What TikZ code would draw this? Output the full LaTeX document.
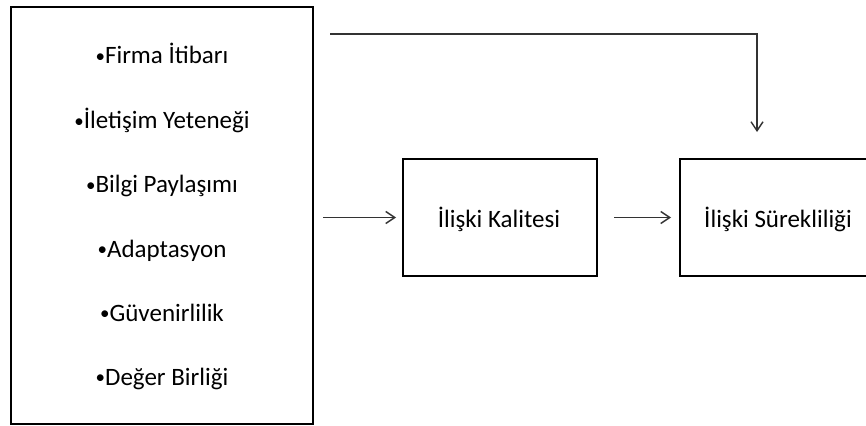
\documentclass[tikz,border=0pt]{standalone}
\usepackage{fontspec}
\setmainfont{Carlito}
\usetikzlibrary{arrows.meta}
\newcommand{\blt}{\raisebox{1.5pt}{\fontsize{19}{20}\selectfont•}}
\tikzset{
  box/.style={draw=black, line width=2pt, rectangle, inner sep=0pt},
  item/.style={inner sep=0pt, anchor=base, font=\fontsize{25}{30}\selectfont},
  arr/.style={draw=black!80, line width=1.4pt, -{Straight Barb[length=9pt,width=12pt,line width=1.4pt]}},
}
\begin{document}
\begin{tikzpicture}[x=1pt,y=-1pt]
\useasboundingbox (0,0) rectangle (866,425);
\clip (0,0) rectangle (866,425);
\node[box, minimum width=302pt, minimum height=417pt] (factors) at (162,215.5) {};
\node[item] (f1) at (162,64) {\blt Firma İtibarı};
\node[item] (f2) at (162,128.5) {\blt İletişim Yeteneği};
\node[item] (f3) at (162,192.5) {\blt Bilgi Paylaşımı};
\node[item] (f4) at (162,257) {\blt Adaptasyon};
\node[item] (f5) at (162,321) {\blt Güvenirlilik};
\node[item] (f6) at (162,385) {\blt Değer Birliği};
\node[box, minimum width=194pt, minimum height=117pt] (kal) at (500,217.5) {};
\node[item] (kalt) at (499,227) {İlişki Kalitesi};
\node[box, minimum width=196pt, minimum height=117pt] (sur) at (778,217.5) {};
\node[item] (surt) at (778,227) {İlişki Sürekliliği};
\draw[arr, shorten <=9pt, shorten >=6pt] (factors.east |- kal.west) -- (kal.west);
\draw[arr, shorten <=16pt, shorten >=8pt] (kal.east) -- (sur.west);
\coordinate (ts) at (330,34);
\coordinate (te) at (757,132);
\draw[arr] (ts) -| (te);
\end{tikzpicture}
\end{document}
